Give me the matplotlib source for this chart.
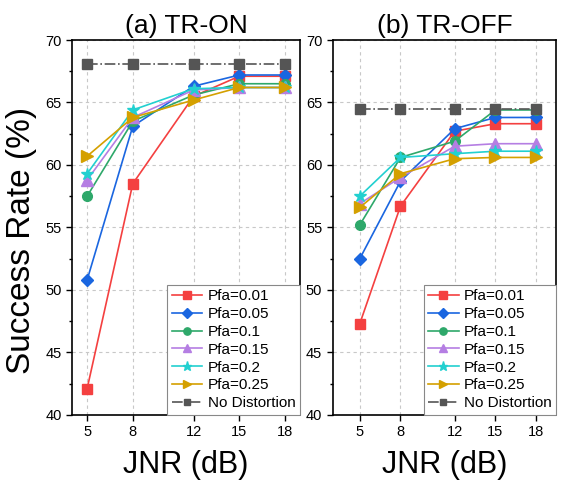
import numpy as np
import matplotlib.pyplot as plt

plt.rcParams['font.family'] = ['Liberation Sans', 'DejaVu Sans']

# данные
jnr = [5, 8, 12, 15, 18]
labels = ['Pfa=0.01', 'Pfa=0.05', 'Pfa=0.1', 'Pfa=0.15', 'Pfa=0.2', 'Pfa=0.25', 'No Distortion']

tr_on = [
    [42.1, 58.5, 65.5, 67.1, 67.1],
    [50.8, 63.1, 66.3, 67.2, 67.2],
    [57.5, 63.5, 65.6, 66.5, 66.5],
    [58.8, 63.8, 66.0, 66.2, 66.2],
    [59.3, 64.4, 66.1, 66.2, 66.2],
    [60.7, 63.8, 65.2, 66.2, 66.2],
    [68.1, 68.1, 68.1, 68.1, 68.1],
]
tr_off = [
    [47.3, 56.7, 62.7, 63.3, 63.3],
    [52.5, 58.7, 62.9, 63.8, 63.8],
    [55.2, 60.6, 61.9, 64.4, 64.4],
    [56.9, 59.0, 61.5, 61.7, 61.7],
    [57.5, 60.6, 60.9, 61.1, 61.1],
    [56.6, 59.3, 60.5, 60.6, 60.6],
    [64.5, 64.5, 64.5, 64.5, 64.5],
]

colors = ['#f44040', '#1a66e0', '#2ea86a', '#b57ee3', '#22d0d0', '#d4a000', '#555555']
markers = ['s', 'D', 'o', '^', '*', '>', 's']
msizes = [7, 6.5, 7, 8, 9, 8, 6.5]


def draw(ax, data, title, xlim):
    for i, ys in enumerate(data):
        ls = '-.' if i == 6 else '-'
        ax.plot(jnr, ys, ls, color=colors[i], marker=markers[i], markersize=msizes[i],
                linewidth=1.2, label=labels[i], zorder=3)
    ax.set_xlim(*xlim)
    ax.set_ylim(40, 70)
    ax.set_xticks(jnr)
    ax.set_yticks(np.arange(40, 71, 5))
    ax.set_yticks(np.arange(42.5, 70, 5), minor=True)
    ax.tick_params(axis='both', which='major', labelsize=10.5, length=4, width=1)
    ax.tick_params(axis='y', which='minor', length=2.5, width=1)
    ax.grid(True, which='major', linestyle=(0, (3, 3)), color='#c8c8c8', linewidth=0.8)
    for s in ax.spines.values():
        s.set_linewidth(1.2)
    ax.set_title(title, fontsize=19, pad=5)
    ax.set_xlabel('JNR (dB)', fontsize=22, labelpad=8)
    leg = ax.legend(loc='lower right', fontsize=11, borderaxespad=0, fancybox=False,
                    handlelength=2.0, labelspacing=0.25, borderpad=0.3, handletextpad=0.35,
                    markerscale=0.75, framealpha=1)
    leg.get_frame().set_edgecolor('#888888')
    leg.get_frame().set_linewidth(0.8)


fig = plt.figure(figsize=(5.62, 4.88), dpi=100)
ax1 = fig.add_axes([0.128, 0.150, 0.406, 0.768])
ax2 = fig.add_axes([0.592, 0.150, 0.398, 0.768])

draw(ax1, tr_on, '(a) TR-ON', (4, 19))
draw(ax2, tr_off, '(b) TR-OFF', (3, 19.5))
ax1.set_ylabel('Success Rate (%)', fontsize=24)
ax1.yaxis.set_label_coords(-0.155, 0.464)

fig.savefig('out.png', dpi=100)
